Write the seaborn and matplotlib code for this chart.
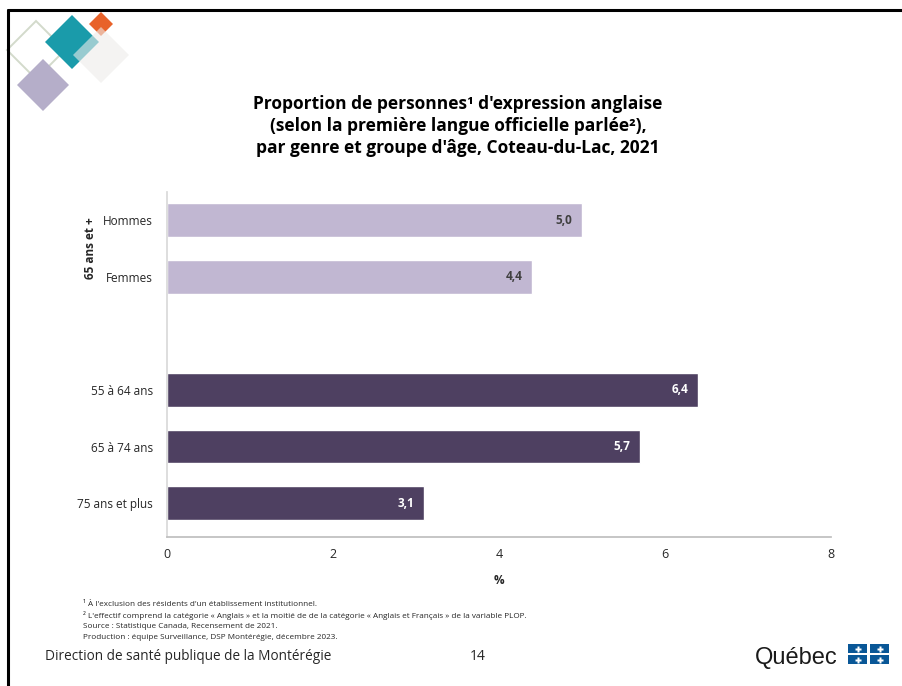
import numpy as np
import pandas as pd
import seaborn as sns
import matplotlib.pyplot as plt
from matplotlib.patches import Polygon, Rectangle

# ---------------- DATA ------------------
categories = ["Hommes", "Femmes", " ", "55 à 64 ans", "65 à 74 ans", "75 ans et plus"]
values = [5.0, 4.4, np.nan, 6.4, 5.7, 3.1]
groups = ["genre", "genre", "vide", "age", "age", "age"]
x_ticks = [0, 2, 4, 6, 8]

TITLE = ("Proportion de personnes¹ d'expression anglaise\n"
         "(selon la première langue officielle parlée²),\n"
         "par genre et groupe d'âge, Coteau-du-Lac, 2021")
NOTES = ["¹ À l'exclusion des résidents d'un établissement institutionnel.",
         "² L'effectif comprend la catégorie « Anglais » et la moitié de de la catégorie "
         "« Anglais et Français » de la variable PLOP.",
         "Source : Statistique Canada, Recensement de 2021.",
         "Production : équipe Surveillance, DSP Montérégie, décembre 2023."]

LIGHT = "#C0B3D6"
DARK = "#4D3B66"
palette = {"genre": LIGHT, "age": DARK, "vide": "white"}

df = pd.DataFrame({"cat": categories, "val": values, "grp": groups})

sns.set_theme(style="white")
plt.rcParams["font.family"] = ["Open Sans", "DejaVu Sans"]

W, H = 902, 686
fig = plt.figure(figsize=(W / 100, H / 100), dpi=100)

# background decoration layer in pixel coords
bg = fig.add_axes([0, 0, 1, 1], zorder=0)
bg.set_xlim(0, W)
bg.set_ylim(H, 0)
bg.axis("off")


def diamond(cx, cy, r, **kw):
    return Polygon([(cx, cy - r), (cx + r, cy), (cx, cy + r), (cx - r, cy)], closed=True, **kw)


bg.add_patch(diamond(36, 50, 29, fill=False, ec="#D3DACB", lw=1.4))
bg.add_patch(diamond(43, 85, 26, fc="#B5AEC9", ec="none"))
bg.add_patch(diamond(72, 42, 27, fc="#1A9BAA", ec="none"))
bg.add_patch(diamond(101, 24, 12, fc="#E8622A", ec="none"))
bg.add_patch(diamond(101, 55, 28, fc="#EEECEA", ec="none", alpha=0.6))

# slide frame (top and left only)
bg.plot([8, W], [10, 10], color="black", lw=2.2)
bg.plot([8, 8], [10, H], color="black", lw=2.2)

# ---------------- CHART ------------------
ax = fig.add_axes([167 / W, 1 - 537 / H, (831 - 167) / W, (537 - 192) / H], zorder=1)
sns.barplot(data=df, y="cat", x="val", hue="grp", palette=palette, order=categories,
            dodge=False, width=0.6, legend=False, orient="h", ax=ax)

ax.set_xlim(0, 8)
ax.set_ylim(5.6, -0.5)
ax.set_xticks(x_ticks)
ax.set_xticklabels([str(t) for t in x_ticks], fontsize=9, color="#262626")
ax.set_xlabel("%", fontsize=8.5, fontweight="bold", color="#262626", labelpad=9)
ax.set_ylabel("")
ax.tick_params(axis="y", length=0, labelsize=8.5, labelcolor="#262626", pad=10)
ax.tick_params(axis="x", direction="in", length=4, color="#BFBFBF", pad=8)
for s in ["top", "right"]:
    ax.spines[s].set_visible(False)
ax.spines["left"].set_color("#D9D9D9")
ax.spines["bottom"].set_color("#BFBFBF")
ax.patch.set_alpha(0)

for p in ax.patches:
    w = p.get_width()
    if np.isnan(w) or w <= 0:
        continue
    light = p.get_facecolor()[0] > 0.6
    ax.text(w - 0.12, p.get_y() + p.get_height() / 2, f"{w:.1f}".replace(".", ","),
            ha="right", va="center", fontsize=8.5, fontweight="bold",
            color="#404040" if light else "white")

# group label
fig.text(90 / W, 1 - 248 / H, "65 ans et +", rotation=90, ha="center", va="center",
         fontsize=8.5, fontweight="bold", color="#262626")

# title
fig.text(458 / W, 1 - 126 / H, TITLE, ha="center", va="center", fontsize=12.5,
         fontweight="bold", color="black", linespacing=1.3)

# footnotes
for i, line in enumerate(NOTES):
    fig.text(83 / W, 1 - (604 + i * 11.3) / H, line, ha="left", va="center",
             fontsize=5.9, color="#262626")

fig.text(45 / W, 1 - 656 / H, "Direction de santé publique de la Montérégie",
         ha="left", va="center", fontsize=9.8, color="#262626")
fig.text(478 / W, 1 - 656 / H, "14", ha="center", va="center", fontsize=10, color="#262626")
fig.text(755 / W, 1 - 658 / H, "Québec", ha="left", va="center", fontsize=17,
         color="#1A1A1A", family=["Liberation Sans", "DejaVu Sans"])

# Quebec flag squares
for fx in [848, 870]:
    for fy in [644, 655]:
        bg.add_patch(Rectangle((fx, fy), 19, 9, fc="#095797", ec="none", zorder=5))
        bg.plot(fx + 9.5, fy + 4.5, marker="P", ms=4, color="white", mec="none", zorder=6)

fig.savefig("out.png", dpi=100)
